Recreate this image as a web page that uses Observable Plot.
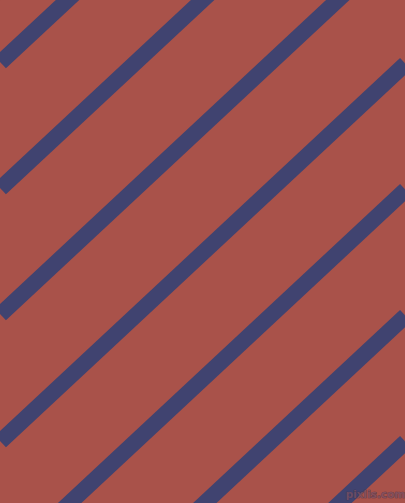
<!DOCTYPE html>
<html>
<head>
<meta charset="utf-8">
<script src="https://cdn.jsdelivr.net/npm/d3@7"></script>
<script src="https://cdn.jsdelivr.net/npm/@observablehq/plot@0.6"></script>
<style>
  html, body { margin: 0; padding: 0; background: #a9524a; overflow: hidden; }
  #chart svg { display: block; }
</style>
</head>
<body>
<div id="chart"></div>
<script>
// Stripe centre-line intercepts (y at x = 0), in pixels of the 405x503 field
const stripeIntercepts = [62, 188, 314, 441, 567, 693, 819];
// Slope of the stripes (rise per unit run, going up to the right): tan(43°)
const stripeSlope = 0.9325;
const fieldWidth = [0, 405];
const fieldHeight = [0, 503];
const watermark = [{x: 375, y: 494, label: "pixlis.com"}];

const stripes = stripeIntercepts.map(c => ({
  x1: fieldWidth[0], y1: c - stripeSlope * fieldWidth[0],
  x2: fieldWidth[1], y2: c - stripeSlope * fieldWidth[1]
}));

const chart = Plot.plot({
  width: 405,
  height: 503,
  margin: 0,
  style: {background: "#a9524a"},
  x: {domain: fieldWidth, range: [0, 405], axis: null},
  y: {domain: fieldHeight, range: [0, 503], axis: null},
  marks: [
    Plot.frame({fill: "#a9524a", stroke: null}),
    Plot.link(stripes, {
      x1: "x1", y1: "y1", x2: "x2", y2: "y2",
      stroke: "#404370", strokeWidth: 16, strokeLinecap: "butt", clip: true
    }),
    Plot.text(watermark, {
      x: "x", y: "y", text: "label",
      fontSize: 10.5, fontWeight: "bold", fontFamily: "DejaVu Sans",
      fill: "#7a5062", stroke: "#3a3048", strokeWidth: 0.7, opacity: 0.75
    })
  ]
});
document.getElementById("chart").appendChild(chart);
</script>
</body>
</html>
